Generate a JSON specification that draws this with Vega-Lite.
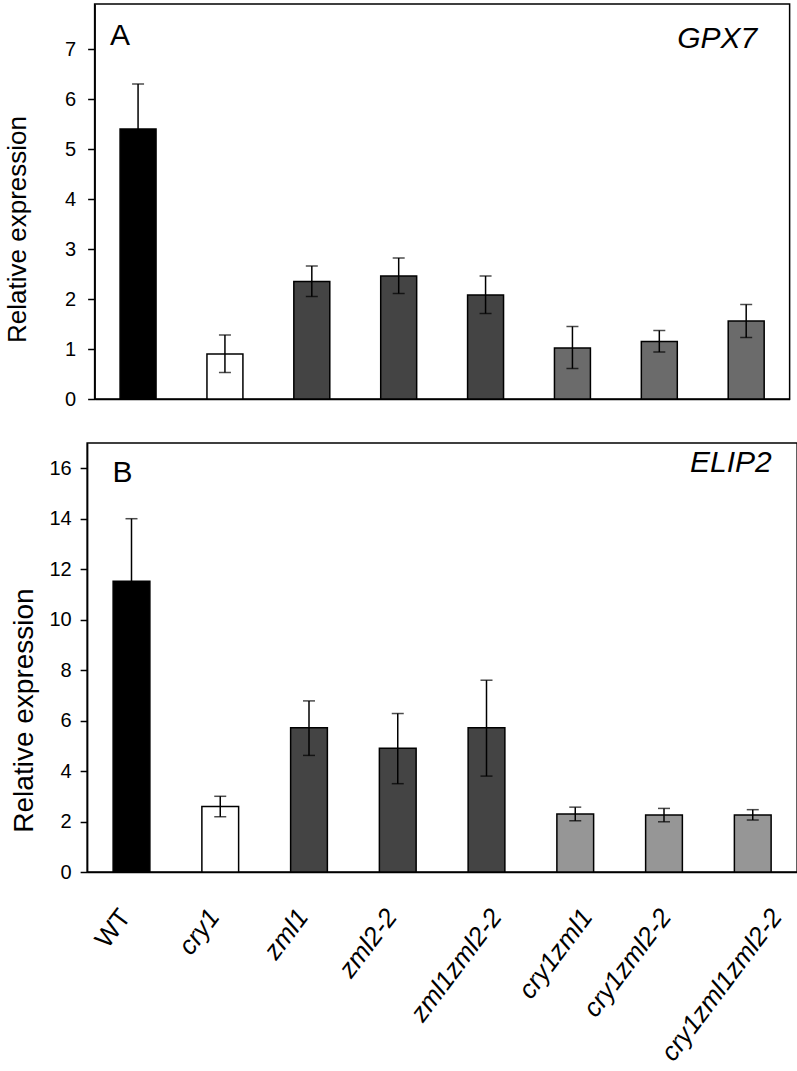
{
  "$schema": "https://vega.github.io/schema/vega-lite/v6.json",
  "background": "white",
  "padding": {"left": 3, "top": 3, "right": 2, "bottom": 0},
  "config": {
    "font": "Liberation Sans",
    "view": {"stroke": "black", "strokeWidth": 1.5},
    "axis": {
      "domainColor": "black", "domainWidth": 1.5,
      "tickColor": "black", "tickWidth": 1.5, "tickSize": 7,
      "labelColor": "black", "titleColor": "black", "grid": false,
      "labelFont": "Liberation Sans", "titleFont": "Liberation Sans",
      "labelFontSize": 20, "titleFontSize": 26, "titleFontWeight": "normal"
    }
  },
  "datasets": {
    "gpx7": [
      {"genotype": "WT", "group": "WT", "value": 5.4, "lo": 4.5, "hi": 6.3},
      {"genotype": "cry1", "group": "cry1", "value": 0.9, "lo": 0.53, "hi": 1.28},
      {"genotype": "zml1", "group": "zml", "value": 2.35, "lo": 2.05, "hi": 2.66},
      {"genotype": "zml2-2", "group": "zml", "value": 2.46, "lo": 2.11, "hi": 2.82},
      {"genotype": "zml1zml2-2", "group": "zml", "value": 2.08, "lo": 1.71, "hi": 2.46},
      {"genotype": "cry1zml1", "group": "cry1zml", "value": 1.02, "lo": 0.61, "hi": 1.45},
      {"genotype": "cry1zml2-2", "group": "cry1zml", "value": 1.15, "lo": 0.94, "hi": 1.37},
      {"genotype": "cry1zml1zml2-2", "group": "cry1zml", "value": 1.56, "lo": 1.23, "hi": 1.89}
    ],
    "elip2": [
      {"genotype": "WT", "group": "WT", "value": 11.52, "lo": 9.04, "hi": 14.0},
      {"genotype": "cry1", "group": "cry1", "value": 2.6, "lo": 2.19, "hi": 3.0},
      {"genotype": "zml1", "group": "zml", "value": 5.72, "lo": 4.62, "hi": 6.78},
      {"genotype": "zml2-2", "group": "zml", "value": 4.9, "lo": 3.5, "hi": 6.28},
      {"genotype": "zml1zml2-2", "group": "zml", "value": 5.72, "lo": 3.8, "hi": 7.6},
      {"genotype": "cry1zml1", "group": "cry1zml", "value": 2.3, "lo": 2.03, "hi": 2.57},
      {"genotype": "cry1zml2-2", "group": "cry1zml", "value": 2.26, "lo": 1.99, "hi": 2.52},
      {"genotype": "cry1zml1zml2-2", "group": "cry1zml", "value": 2.26, "lo": 2.06, "hi": 2.47}
    ]
  },
  "resolve": {"scale": {"fill": "independent", "x": "independent", "y": "independent"}},
  "spacing": 32,
  "center": true,
  "vconcat": [
    {
      "width": 695,
      "height": 395,
      "data": {"name": "gpx7"},
      "encoding": {
        "x": {
          "field": "genotype", "type": "nominal", "sort": null,
          "scale": {"paddingInner": 0.586, "paddingOuter": 0.293},
          "axis": {"title": null, "labels": false, "ticks": false}
        }
      },
      "layer": [
        {
          "mark": {"type": "bar", "stroke": "black", "strokeWidth": 1.5},
          "encoding": {
            "y": {
              "field": "value", "type": "quantitative",
              "scale": {"domain": [0, 7.9], "nice": false},
              "axis": {"values": [0, 1, 2, 3, 4, 5, 6, 7], "title": "Relative expression", "titlePadding": 34, "labelPadding": 12, "titleY": 225}
            },
            "fill": {
              "field": "group", "type": "nominal",
              "scale": {"domain": ["WT", "cry1", "zml", "cry1zml"], "range": ["#000000", "#ffffff", "#444444", "#6b6b6b"]},
              "legend": null
            }
          }
        },
        {
          "mark": {"type": "rule", "color": "black", "strokeWidth": 1.5},
          "encoding": {
            "y": {"field": "lo", "type": "quantitative"},
            "y2": {"field": "hi"}
          }
        },
        {
          "mark": {"type": "tick", "color": "black", "thickness": 1.5, "size": 12},
          "encoding": {"y": {"field": "hi", "type": "quantitative"}}
        },
        {
          "mark": {"type": "tick", "color": "black", "thickness": 1.5, "size": 12},
          "encoding": {"y": {"field": "lo", "type": "quantitative"}}
        },
        {
          "data": {"values": [{"label": "A"}]},
          "mark": {"type": "text", "align": "left", "baseline": "alphabetic", "fontSize": 30, "dx": -28, "color": "black"},
          "encoding": {
            "x": {"datum": "WT", "type": "nominal"},
            "y": {"datum": 7.08, "type": "quantitative"},
            "text": {"field": "label"}
          }
        },
        {
          "data": {"values": [{"label": "GPX7"}]},
          "mark": {"type": "text", "align": "right", "baseline": "alphabetic", "fontSize": 30, "fontStyle": "italic", "dx": 11, "color": "black"},
          "encoding": {
            "x": {"datum": "cry1zml1zml2-2", "type": "nominal"},
            "y": {"datum": 7.02, "type": "quantitative"},
            "text": {"field": "label"}
          }
        }
      ]
    },
    {
      "width": 710,
      "height": 429,
      "data": {"name": "elip2"},
      "encoding": {
        "x": {
          "field": "genotype", "type": "nominal", "sort": null,
          "scale": {"paddingInner": 0.586, "paddingOuter": 0.293},
          "axis": {
            "title": null, "ticks": false, "labelAngle": -53, "labelFontSize": 26,
            "labelAlign": "right", "labelBaseline": "middle",
            "labelPadding": 40, "labelLimit": 0,
            "labelOffset": {
              "condition": [
                {"test": "datum.value === 'zml1zml2-2'", "value": 10},
                {"test": "datum.value === 'cry1zml1'", "value": 12},
                {"test": "datum.value === 'cry1zml2-2'", "value": 2},
                {"test": "datum.value === 'cry1zml1zml2-2'", "value": 24}
              ],
              "value": -6
            },
            "labelFontStyle": {"condition": {"test": "datum.value === 'WT'", "value": "normal"}, "value": "italic"}
          }
        }
      },
      "layer": [
        {
          "mark": {"type": "bar", "stroke": "black", "strokeWidth": 1.5},
          "encoding": {
            "y": {
              "field": "value", "type": "quantitative",
              "scale": {"domain": [0, 17], "nice": false},
              "axis": {"values": [0, 2, 4, 6, 8, 10, 12, 14, 16], "title": "Relative expression", "titlePadding": 10, "labelPadding": 9, "titleFontSize": 28, "titleY": 267}
            },
            "fill": {
              "field": "group", "type": "nominal",
              "scale": {"domain": ["WT", "cry1", "zml", "cry1zml"], "range": ["#000000", "#ffffff", "#444444", "#969696"]},
              "legend": null
            }
          }
        },
        {
          "mark": {"type": "rule", "color": "black", "strokeWidth": 1.5},
          "encoding": {
            "y": {"field": "lo", "type": "quantitative"},
            "y2": {"field": "hi"}
          }
        },
        {
          "mark": {"type": "tick", "color": "black", "thickness": 1.5, "size": 12},
          "encoding": {"y": {"field": "hi", "type": "quantitative"}}
        },
        {
          "mark": {"type": "tick", "color": "black", "thickness": 1.5, "size": 12},
          "encoding": {"y": {"field": "lo", "type": "quantitative"}}
        },
        {
          "data": {"values": [{"label": "B"}]},
          "mark": {"type": "text", "align": "left", "baseline": "alphabetic", "fontSize": 30, "dx": -19, "color": "black"},
          "encoding": {
            "x": {"datum": "WT", "type": "nominal"},
            "y": {"datum": 15.45, "type": "quantitative"},
            "text": {"field": "label"}
          }
        },
        {
          "data": {"values": [{"label": "ELIP2"}]},
          "mark": {"type": "text", "align": "right", "baseline": "alphabetic", "fontSize": 30, "fontStyle": "italic", "dx": 19, "color": "black"},
          "encoding": {
            "x": {"datum": "cry1zml1zml2-2", "type": "nominal"},
            "y": {"datum": 15.84, "type": "quantitative"},
            "text": {"field": "label"}
          }
        }
      ]
    }
  ]
}
